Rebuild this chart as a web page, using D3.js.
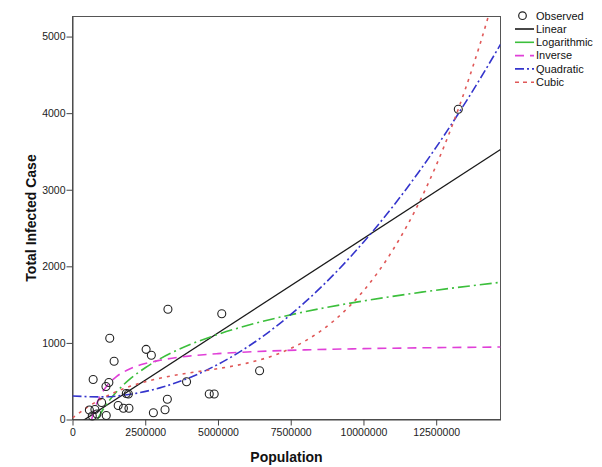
<!DOCTYPE html>
<html>
<head>
<meta charset="utf-8">
<script src="https://cdn.jsdelivr.net/npm/d3@7"></script>
<style>
  html, body { margin: 0; padding: 0; background: #fff; }
  svg { display: block; font-family: Arial, "Liberation Sans", sans-serif; }
</style>
</head>
<body>
<svg id="chart" width="602" height="467"></svg>
<script>
// ---- Data ----
const observedPopulation = [13260000, 3280000, 5130000, 1280000, 2530000, 2710000, 1430000, 6430000, 3920000, 710000,
  1250000, 1150000, 1850000, 1920000, 4700000, 4870000, 1000000, 3260000, 1570000, 1750000,
  1940000, 580000, 770000, 3180000, 2780000, 1160000, 840000, 680000];
const observedCases = [4050, 1439, 1381, 1060, 916, 839, 761, 637, 493, 522,
  483, 431, 339, 333, 333, 333, 222, 264, 183, 146,
  146, 124, 130, 127, 89, 52, 72, 46];

const linearX = [0, 14710000];
const linearY = [-104, 3526];

const logX = [860000, 1000000, 1250000, 1500000, 2000000, 2500000, 3000000, 4000000, 5000000, 6000000, 8000000, 10000000, 12000000, 14710000];
const logY = [5, 100, 240, 355, 536, 676, 791, 972, 1112, 1227, 1408, 1548, 1663, 1791];

const invX = [660000, 750000, 850000, 1000000, 1200000, 1500000, 2000000, 2500000, 3000000, 4000000, 5000000, 6000000, 8000000, 10000000, 12000000, 14710000];
const invY = [5, 123, 225, 340, 448, 557, 665, 730, 773, 828, 860, 882, 909, 925, 936, 946];

const quadX = [0, 1000000, 2000000, 3000000, 4000000, 5000000, 6000000, 7000000, 8000000, 9000000, 10000000, 11000000, 12000000, 13000000, 14000000, 14710000];
const quadY = [307, 295, 330, 413, 542, 720, 944, 1216, 1535, 1901, 2315, 2776, 3284, 3840, 4443, 4898];

const cubicX = [0, 500000, 1000000, 1500000, 2000000, 3000000, 4000000, 5000000, 6000000, 7000000, 8000000, 9000000, 10000000, 11000000, 12000000, 13000000, 14000000, 14710000];
const cubicY = [20, 158, 271, 363, 436, 539, 607, 664, 736, 848, 1026, 1295, 1680, 2207, 2901, 3788, 4893, 5824];

const xTicks = [0, 2500000, 5000000, 7500000, 10000000, 12500000];
const yTicks = [0, 1000, 2000, 3000, 4000, 5000];

const legendLabels = ["Observed", "Linear", "Logarithmic", "Inverse", "Quadratic", "Cubic"];

// ---- Layout ----
const svg = d3.select("#chart");
const pL = 72.5, pR = 500.5, pT = 16.5, pB = 419.5;

const x = d3.scaleLinear().domain([0, 14710000]).range([pL, pR]);
const y = d3.scaleLinear().domain([0, 5262]).range([pB, pT]);

svg.append("defs").append("clipPath").attr("id", "plotclip")
  .append("rect").attr("x", pL).attr("y", pT).attr("width", pR - pL).attr("height", pB - pT);

// Frame
svg.append("rect").attr("x", pL).attr("y", pT).attr("width", pR - pL).attr("height", pB - pT)
  .attr("fill", "none").attr("stroke", "#555").attr("stroke-width", 1);

// Axes
const fmt = d3.format("d");
const xAxis = svg.append("g").attr("transform", `translate(0,${pB})`)
  .call(d3.axisBottom(x).tickValues(xTicks).tickFormat(fmt).tickSize(6).tickSizeOuter(0));
const yAxis = svg.append("g").attr("transform", `translate(${pL},0)`)
  .call(d3.axisLeft(y).tickValues(yTicks).tickFormat(fmt).tickSize(6).tickSizeOuter(0));
[xAxis, yAxis].forEach(g => {
  g.select(".domain").attr("stroke", "#444");
  g.selectAll(".tick line").attr("stroke", "#444");
  g.selectAll(".tick text").attr("fill", "#222").style("font-size", "10.5px")
    .style("font-family", "Arial, 'Liberation Sans', sans-serif");
});
xAxis.selectAll(".tick text").attr("dy", "0.85em").attr("y", 8);
yAxis.selectAll(".tick text").attr("x", -7);

// Axis titles
svg.append("text").attr("x", (pL + pR) / 2).attr("y", 462).attr("text-anchor", "middle")
  .style("font-weight", "bold").style("font-size", "14px").attr("fill", "#111").text("Population");
svg.append("text").attr("transform", `translate(36,${(pT + pB) / 2}) rotate(-90)`)
  .attr("text-anchor", "middle").style("font-weight", "bold").style("font-size", "14px")
  .attr("fill", "#111").text("Total Infected Case");

// Fit curves
const plot = svg.append("g").attr("clip-path", "url(#plotclip)");
const fits = [
  { xs: linearX, ys: linearY, color: "#1a1a1a", dash: null, width: 1.3 },
  { xs: logX, ys: logY, color: "#3cbf3c", dash: "12,4,2,4", width: 1.6 },
  { xs: invX, ys: invY, color: "#e040d8", dash: "9,6", width: 1.6 },
  { xs: quadX, ys: quadY, color: "#3535cc", dash: "9,3,2,3", width: 1.6 },
  { xs: cubicX, ys: cubicY, color: "#e05858", dash: "3,5", width: 1.6 }
];
const line = d3.line().x(d => x(d[0])).y(d => y(d[1])).curve(d3.curveMonotoneX);
fits.forEach(f => {
  plot.append("path").datum(d3.zip(f.xs, f.ys)).attr("d", line)
    .attr("fill", "none").attr("stroke", f.color).attr("stroke-width", f.width)
    .attr("stroke-dasharray", f.dash);
});

// Observed points
svg.append("g").selectAll("circle").data(d3.zip(observedPopulation, observedCases)).join("circle")
  .attr("cx", d => x(d[0])).attr("cy", d => y(d[1])).attr("r", 4)
  .attr("fill", "none").attr("stroke", "#222").attr("stroke-width", 1.1);

// Legend
const lg = svg.append("g");
const rowY = i => 15.7 + i * 13.3;
legendLabels.forEach((lab, i) => {
  lg.append("text").attr("x", 536).attr("y", rowY(i)).attr("dy", "0.35em")
    .style("font-size", "11px").attr("fill", "#111").text(lab);
});
lg.append("circle").attr("cx", 522.5).attr("cy", rowY(0)).attr("r", 3.8)
  .attr("fill", "none").attr("stroke", "#222").attr("stroke-width", 1.2);
const legendDash = [null, null, "9,6", "9,3,2,3", "4,4"];
fits.forEach((f, i) => {
  lg.append("line").attr("x1", 515).attr("x2", 534).attr("y1", rowY(i + 1)).attr("y2", rowY(i + 1))
    .attr("stroke", f.color).attr("stroke-width", 1.6).attr("stroke-dasharray", legendDash[i]);
});
</script>
</body>
</html>
